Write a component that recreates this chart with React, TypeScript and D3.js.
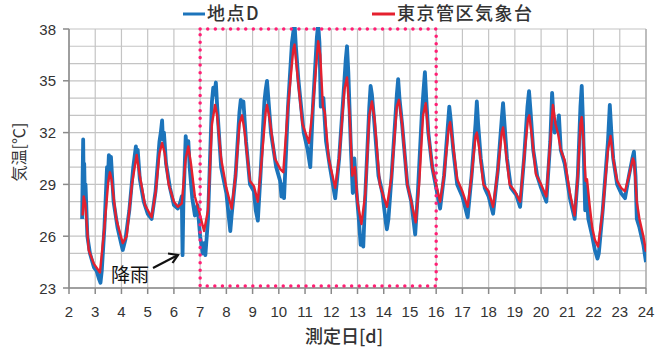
import React from 'react';
import * as d3 from 'd3';

// [day, temperature]
const siteD: [number, number][] = [
  [2.5, 27.0], [2.52, 29.5], [2.54, 31.6], [2.56, 29.0], [2.58, 30.2], [2.6, 28.5], [2.63, 29.0], [2.7, 26.0], [2.8, 25.0], [2.95, 24.2],
  [3.05, 24.0], [3.15, 23.5], [3.2, 23.3], [3.25, 24.0], [3.35, 26.5], [3.45, 30.0], [3.48, 29.2], [3.52, 30.7], [3.55, 29.6], [3.6, 30.6],
  [3.63, 29.8], [3.7, 28.0], [3.85, 26.5], [4.0, 25.5], [4.05, 25.2], [4.15, 25.8], [4.3, 27.5], [4.45, 30.0], [4.55, 31.2], [4.58, 30.5],
  [4.62, 31.0], [4.7, 29.3], [4.85, 28.0], [5.0, 27.3], [5.15, 27.0], [5.3, 28.6], [5.45, 31.5], [5.5, 32.0], [5.55, 32.7], [5.58, 31.6],
  [5.62, 32.0], [5.7, 30.2], [5.85, 28.8], [6.0, 27.8], [6.15, 27.6], [6.25, 28.0], [6.3, 28.3], [6.33, 24.9], [6.36, 27.8], [6.45, 31.8],
  [6.5, 30.8], [6.55, 31.5], [6.6, 30.0], [6.7, 28.2], [6.8, 27.2], [6.9, 27.8], [7.0, 26.0], [7.1, 25.0], [7.15, 25.6], [7.2, 24.9],
  [7.3, 27.0], [7.45, 33.8], [7.5, 34.6], [7.55, 34.2], [7.6, 34.9], [7.65, 33.5], [7.8, 30.0], [8.0, 28.5], [8.1, 27.0], [8.15, 26.3],
  [8.2, 27.2], [8.35, 29.5], [8.5, 33.2], [8.55, 33.9], [8.6, 33.5], [8.65, 33.8], [8.75, 31.5], [8.9, 29.0], [9.05, 28.6], [9.12, 27.5],
  [9.2, 26.9], [9.3, 29.5], [9.45, 33.8], [9.5, 34.5], [9.55, 35.0], [9.6, 34.0], [9.7, 32.0], [9.9, 30.0], [10.05, 29.2], [10.1, 28.3],
  [10.15, 29.0], [10.2, 28.2], [10.35, 33.5], [10.5, 37.2], [10.55, 37.8], [10.6, 38.3], [10.65, 37.0], [10.75, 35.0], [10.95, 32.0], [11.1, 31.0],
  [11.2, 30.0], [11.3, 33.5], [11.45, 37.5], [11.5, 38.3], [11.55, 37.2], [11.6, 33.5], [11.7, 34.0], [11.8, 31.5], [11.95, 30.0], [12.15, 28.2],
  [12.3, 30.5], [12.5, 35.0], [12.55, 36.2], [12.6, 37.0], [12.65, 35.5], [12.75, 31.0], [12.82, 28.5], [12.88, 30.5], [12.95, 28.8], [13.05, 27.0],
  [13.12, 25.5], [13.18, 26.0], [13.22, 25.4], [13.3, 28.5], [13.45, 33.5], [13.5, 34.7], [13.55, 34.2], [13.62, 33.0], [13.8, 29.5], [13.95, 28.5],
  [14.08, 26.8], [14.12, 26.4], [14.18, 27.0], [14.3, 29.5], [14.5, 34.2], [14.55, 35.1], [14.6, 34.0], [14.7, 32.5], [14.9, 29.0], [15.05, 28.0],
  [15.2, 26.1], [15.3, 28.5], [15.45, 33.0], [15.52, 34.5], [15.57, 35.5], [15.62, 34.0], [15.7, 32.0], [15.85, 30.0], [16.0, 28.8], [16.15, 27.6],
  [16.3, 29.5], [16.45, 32.5], [16.5, 33.5], [16.55, 32.8], [16.65, 31.0], [16.8, 29.0], [17.0, 28.3], [17.2, 27.1], [17.35, 29.5], [17.5, 32.5],
  [17.55, 33.8], [17.6, 32.5], [17.7, 30.5], [17.85, 28.8], [18.0, 28.3], [18.17, 27.3], [18.35, 29.8], [18.5, 32.8], [18.55, 33.7], [18.6, 32.6],
  [18.7, 30.5], [18.85, 28.8], [19.05, 28.4], [19.2, 27.7], [19.35, 30.5], [19.48, 33.5], [19.54, 34.4], [19.6, 33.2], [19.7, 31.0], [19.85, 29.5],
  [20.0, 28.8], [20.2, 28.0], [20.35, 31.5], [20.42, 34.3], [20.47, 33.0], [20.52, 32.0], [20.6, 32.2], [20.68, 33.0], [20.75, 31.0], [20.9, 30.2],
  [21.1, 28.2], [21.28, 27.0], [21.4, 29.5], [21.5, 33.5], [21.55, 34.7], [21.6, 32.5], [21.68, 27.5], [21.72, 29.0], [21.8, 27.0], [21.95, 26.0],
  [22.05, 25.2], [22.15, 24.7], [22.2, 25.0], [22.35, 27.5], [22.55, 31.5], [22.62, 33.6], [22.68, 32.0], [22.75, 30.5], [22.9, 29.0], [23.05, 28.5],
  [23.2, 28.2], [23.35, 29.5], [23.48, 30.5], [23.54, 30.9], [23.6, 29.5], [23.65, 27.0], [23.75, 26.5], [23.9, 25.5], [24.0, 24.5],
];

const tokyo: [number, number][] = [
  [2.52, 27.2], [2.56, 28.3], [2.62, 27.9], [2.75, 25.2], [2.95, 24.4], [3.18, 23.9], [3.35, 26.5], [3.5, 29.2], [3.56, 29.7], [3.62, 29.3],
  [3.8, 27.0], [4.05, 25.6], [4.2, 26.0], [4.4, 29.0], [4.58, 30.7], [4.7, 29.5], [4.9, 27.8], [5.15, 27.1], [5.3, 28.5], [5.45, 30.8],
  [5.55, 31.4], [5.65, 30.8], [5.8, 29.0], [6.0, 28.0], [6.15, 27.7], [6.3, 27.9], [6.45, 30.5], [6.55, 31.2], [6.65, 30.2], [6.8, 28.3],
  [6.95, 27.5], [7.15, 26.3], [7.3, 27.5], [7.45, 32.5], [7.57, 33.6], [7.65, 33.0], [7.8, 30.5], [8.0, 28.8], [8.2, 27.6], [8.35, 29.5],
  [8.5, 32.5], [8.6, 33.0], [8.7, 32.0], [8.9, 29.2], [9.05, 28.9], [9.2, 28.0], [9.35, 30.5], [9.5, 33.2], [9.55, 33.6], [9.65, 32.8],
  [9.85, 30.5], [10.05, 29.9], [10.17, 29.7], [10.35, 33.5], [10.55, 36.8], [10.6, 37.1], [10.7, 35.5], [10.9, 32.5], [11.15, 31.4], [11.3, 33.5],
  [11.5, 37.3], [11.58, 36.5], [11.68, 33.5], [11.75, 33.2], [11.9, 30.5], [12.15, 28.8], [12.3, 30.5], [12.5, 34.5], [12.6, 35.2], [12.7, 33.0],
  [12.8, 29.5], [12.9, 30.0], [13.0, 28.0], [13.15, 26.7], [13.3, 28.5], [13.45, 33.0], [13.55, 33.8], [13.65, 32.8], [13.85, 29.0], [14.12, 27.7],
  [14.3, 29.5], [14.5, 33.5], [14.58, 33.9], [14.7, 32.5], [14.9, 29.0], [15.05, 28.0], [15.22, 26.8], [15.35, 29.0], [15.5, 33.0], [15.6, 33.7],
  [15.7, 32.0], [15.85, 30.0], [16.0, 29.0], [16.15, 28.0], [16.3, 29.5], [16.48, 32.3], [16.53, 32.6], [16.65, 31.2], [16.8, 29.3], [17.0, 28.6],
  [17.2, 27.7], [17.35, 29.5], [17.5, 31.8], [17.55, 32.0], [17.65, 31.0], [17.8, 29.0], [18.0, 28.6], [18.17, 27.7], [18.35, 29.8], [18.5, 32.0],
  [18.55, 32.3], [18.65, 31.0], [18.8, 29.0], [19.0, 28.6], [19.2, 28.0], [19.35, 30.5], [19.5, 32.8], [19.55, 33.0], [19.65, 31.8], [19.8, 29.6],
  [20.0, 29.0], [20.2, 28.3], [20.35, 31.5], [20.45, 33.6], [20.55, 32.5], [20.65, 31.9], [20.75, 31.0], [20.9, 30.4], [21.1, 28.5], [21.28, 27.2],
  [21.4, 29.5], [21.5, 32.5], [21.55, 32.9], [21.62, 31.5], [21.7, 29.2], [21.75, 29.3], [21.85, 27.8], [21.95, 26.5], [22.05, 25.8], [22.17, 25.4],
  [22.35, 27.5], [22.55, 31.0], [22.65, 31.8], [22.75, 30.5], [22.9, 29.2], [23.05, 28.8], [23.2, 28.6], [23.35, 29.5], [23.5, 30.5], [23.55, 30.3],
  [23.65, 28.0], [23.75, 27.0], [23.9, 26.0], [24.0, 25.1],
];

const xTicks = d3.range(2, 25);
const yTicks = [23, 26, 29, 32, 35, 38];
const yGrid = d3.range(23, 39);
const highlight = [7, 16];

const W = 668;
const H = 347;
const margin = { top: 29, right: 22, bottom: 59, left: 69 };
const font = '"Liberation Sans", Arial, sans-serif';
const cjk = '"Noto Sans CJK JP", "Noto Sans", sans-serif';

export default function App() {
  const x = d3.scaleLinear().domain([2, 24]).range([margin.left, W - margin.right]);
  const y = d3.scaleLinear().domain([23, 38]).range([H - margin.bottom, margin.top]);
  const line = d3
    .line<[number, number]>()
    .x((d) => x(d[0]))
    .y((d) => y(d[1]));

  const bottom = y(23);
  const top = y(38);

  return (
    <div style={{ position: 'fixed', left: 0, top: 0, background: '#fff' }}>
      <svg width={W} height={H} style={{ display: 'block' }}>
        <defs>
          <clipPath id="plot">
            <rect x={x(2)} y={top - 2} width={x(24) - x(2)} height={bottom - top + 2} />
          </clipPath>
        </defs>
        {/* grid */}
        {yGrid.map((v) => (
          <line key={'gy' + v} x1={x(2)} x2={x(24)} y1={y(v)} y2={y(v)} stroke="#c4c4c4" strokeWidth={1.2} />
        ))}
        {xTicks.map((v) => (
          <line key={'gx' + v} x1={x(v)} x2={x(v)} y1={top} y2={bottom} stroke="#c4c4c4" strokeWidth={1.2} />
        ))}
        <line x1={x(24)} x2={x(24)} y1={top} y2={bottom} stroke="#a8a8a8" strokeWidth={1.2} />
        {/* axes */}
        <line x1={x(2)} x2={x(24)} y1={bottom} y2={bottom} stroke="#8a8a8a" strokeWidth={1.5} />
        <line x1={x(2)} x2={x(2)} y1={top} y2={bottom} stroke="#8a8a8a" strokeWidth={1.5} />
        {xTicks.map((v) => (
          <g key={'tx' + v}>
            <line x1={x(v)} x2={x(v)} y1={bottom} y2={bottom + 6} stroke="#8a8a8a" strokeWidth={1.5} />
            <text x={x(v)} y={bottom + 29} textAnchor="middle" fontFamily={font} fontSize={15} fill="#333">
              {v}
            </text>
          </g>
        ))}
        {yTicks.map((v) => (
          <g key={'ty' + v}>
            <line x1={x(2) - 6} x2={x(2)} y1={y(v)} y2={y(v)} stroke="#8a8a8a" strokeWidth={1.5} />
            <text x={x(2) - 13} y={y(v) + 5.5} textAnchor="end" fontFamily={font} fontSize={15} fill="#333">
              {v}
            </text>
          </g>
        ))}
        {/* series */}
        <g clipPath="url(#plot)">
          <path d={line(siteD) ?? ''} fill="none" stroke="#1c74bb" strokeWidth={3.8} strokeLinejoin="round" />
          <path d={line(tokyo) ?? ''} fill="none" stroke="#e5202e" strokeWidth={2.4} strokeLinejoin="round" />
        </g>
        {/* highlighted period */}
        <rect
          x={x(highlight[0])}
          y={top}
          width={x(highlight[1]) - x(highlight[0])}
          height={bottom - 2 - top}
          fill="none"
          stroke="#ff1f74"
          strokeWidth={3.5}
          strokeDasharray="0 7.6"
          strokeLinecap="round"
        />
        {/* rain annotation */}
        <text x={111} y={282} fontFamily={cjk} fontSize={19} fill="#111">
          降雨
        </text>
        <path d="M153,268 L178,255" stroke="#111" strokeWidth={2.2} fill="none" />
        <path d="M168,253.5 L178,255 L172.5,263" stroke="#111" strokeWidth={2.2} fill="none" strokeLinejoin="miter" />
        {/* legend */}
        <line x1={183} x2={205} y1={14} y2={14} stroke="#1c74bb" strokeWidth={3} />
        <text x={207} y={20} fontFamily={cjk} fontSize={18} fontWeight={500} letterSpacing={1.5} fill="#333">
          地点D
        </text>
        <line x1={372} x2={395} y1={14} y2={14} stroke="#e5202e" strokeWidth={3} />
        <text x={397} y={20} fontFamily={cjk} fontSize={18} fontWeight={500} letterSpacing={1.5} fill="#333">
          東京管区気象台
        </text>
        {/* axis titles */}
        <text x={344} y={343} textAnchor="middle" fontFamily={cjk} fontSize={18} fontWeight={500} fill="#333">
          測定日[d]
        </text>
        <text
          transform={`translate(25,152) rotate(-90)`}
          textAnchor="middle"
          fontFamily={cjk}
          fontSize={16}
          fill="#333"
        >
          気温[℃]
        </text>
      </svg>
    </div>
  );
}
